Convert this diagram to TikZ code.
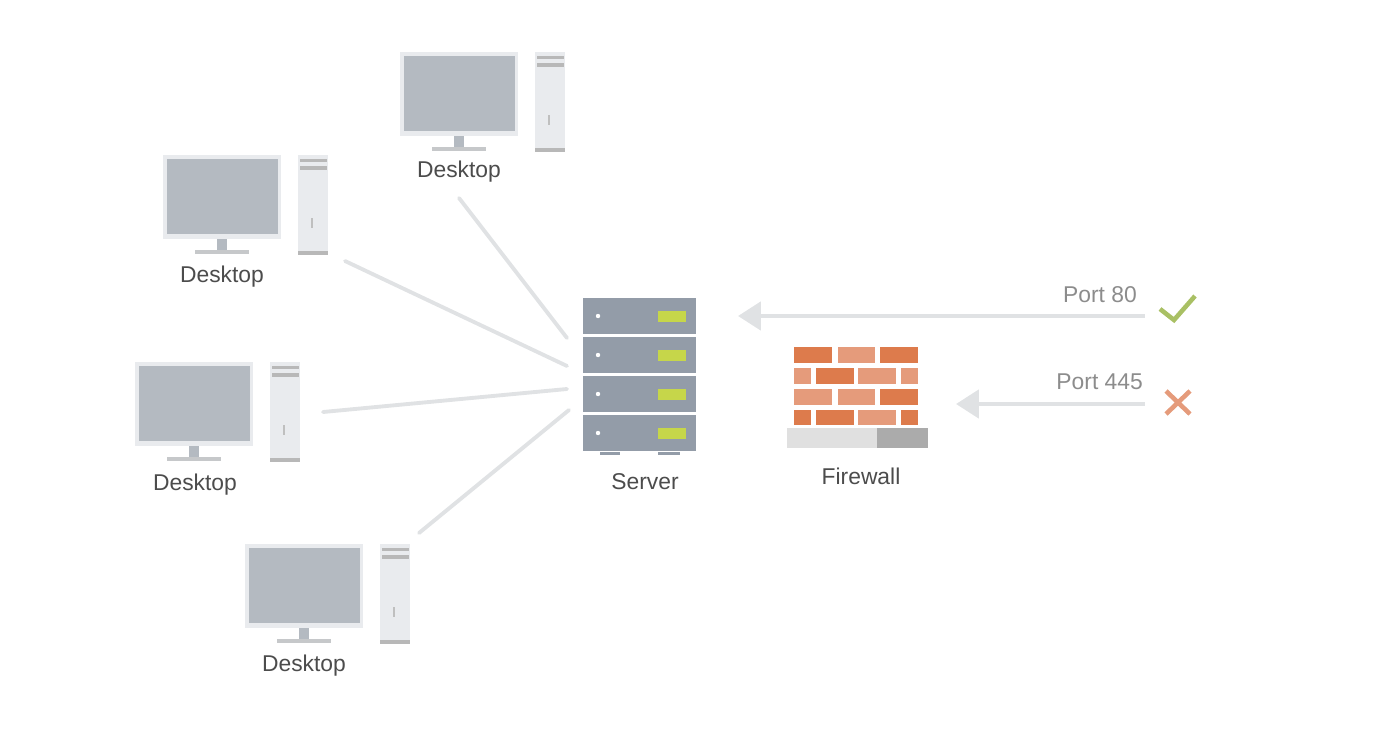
\documentclass[tikz,border=0pt]{standalone}
\usepackage{fontspec}
\setmainfont{Liberation Sans}
\usepackage{tikz}
\usetikzlibrary{arrows.meta}
\definecolor{screen}{HTML}{B4BAC1}
\definecolor{casing}{HTML}{E9EBEE}
\definecolor{link}{HTML}{E0E2E4}
\definecolor{rack}{HTML}{939CA8}
\definecolor{led}{HTML}{C6D64A}
\definecolor{tick}{HTML}{A9C064}
\definecolor{brickdark}{HTML}{DD7B4C}
\definecolor{bricklight}{HTML}{E59B7B}
\tikzset{
	caption/.style={text=black!70,font=\fontsize{13}{15}\selectfont},
	portlabel/.style={text=black!45,font=\fontsize{13}{15}\selectfont,anchor=east},
	wire/.style={link,line width=2.2pt,line cap=round},
	blocked/.style={link,line width=2.4pt,-{Triangle[length=13pt,width=16pt]}},
	desktop/.pic={
		\fill[casing] (0,0) rectangle (118,84);
		\fill[screen] (4,4) rectangle (115,79);
		\fill[screen] (54,84) rectangle (64,95);
		\fill[casing!85!black] (32,95) rectangle (86,99);
		\fill[casing] (135,0) rectangle (165,100);
		\fill[black!28] (137,4) rectangle (164,7);
		\fill[black!28] (137,11) rectangle (164,15);
		\fill[black!28] (135,96) rectangle (165,100);
		\fill[black!25] (148,63) rectangle (150,73);
	},
	serverunit/.pic={
		\fill[rack] (0,0) rectangle (113,36);
		\fill[white] (15,18) circle (2.2);
		\fill[led] (75,13) rectangle (103,24);
	}
}
\begin{document}
\begin{tikzpicture}[x=0.02cm,y=-0.02cm]
	\useasboundingbox (0,0) rectangle (1378,750);
	% desktops
	\pic at (400,52) {desktop};
	\pic at (163,155) {desktop};
	\pic at (135,362) {desktop};
	\pic at (245,544) {desktop};
	\node[caption] (desktopa) at (459,172) {Desktop};
	\node[caption] (desktopb) at (222,277) {Desktop};
	\node[caption] (desktopc) at (195,485) {Desktop};
	\node[caption] (desktopd) at (304,666) {Desktop};
	% server
	\foreach \y in {298,337,376,415}
		\pic at (583,\y) {serverunit};
	\fill[rack] (600,452) rectangle (620,455);
	\fill[rack] (658,452) rectangle (680,455);
	\node[caption] (server) at (645,482) {Server};
	% wires
	\coordinate (sa) at (567,338);
	\coordinate (sb) at (567,366);
	\coordinate (sc) at (567,389);
	\coordinate (sd) at (569,410);
	\coordinate (da) at (459,198);
	\coordinate (db) at (345,261);
	\coordinate (dc) at (323,412);
	\coordinate (dd) at (419,533);
	\draw[wire] (da) -- (sa);
	\draw[wire] (db) -- (sb);
	\draw[wire] (dc) -- (sc);
	\draw[wire] (dd) -- (sd);
	% firewall
	\fill[brickdark] (794,347) rectangle (832,363);
	\fill[bricklight] (838,347) rectangle (875,363);
	\fill[brickdark] (880,347) rectangle (918,363);
	\fill[bricklight] (794,368) rectangle (811,384);
	\fill[brickdark] (816,368) rectangle (854,384);
	\fill[bricklight] (858,368) rectangle (896,384);
	\fill[bricklight] (901,368) rectangle (918,384);
	\fill[bricklight] (794,389) rectangle (832,405);
	\fill[bricklight] (838,389) rectangle (875,405);
	\fill[brickdark] (880,389) rectangle (918,405);
	\fill[brickdark] (794,410) rectangle (811,425);
	\fill[brickdark] (816,410) rectangle (854,425);
	\fill[bricklight] (858,410) rectangle (896,425);
	\fill[brickdark] (901,410) rectangle (918,425);
	\fill[black!12] (787,428) rectangle (877,448);
	\fill[black!33] (877,428) rectangle (928,448);
	\node[caption] (firewall) at (861,476) {Firewall};
	% ports
	\coordinate (pa) at (1145,316);
	\coordinate (pb) at (1145,404);
	\coordinate (ta) at (738,316);
	\coordinate (tb) at (956,404);
	\draw[blocked] (pa) -- (ta);
	\draw[blocked] (pb) -- (tb);
	\node[portlabel] (porta) at (1143,295) {Port 80};
	\node[portlabel] (portb) at (1149,382) {Port 445};
	\draw[line width=2.6pt,color=tick] (1160,309) -- (1174,320) -- (1195,296);
	\draw[line width=2.6pt,color=bricklight] (1166,391) -- (1190,414);
	\draw[line width=2.6pt,color=bricklight] (1190,391) -- (1166,414);
\end{tikzpicture}
\end{document}
